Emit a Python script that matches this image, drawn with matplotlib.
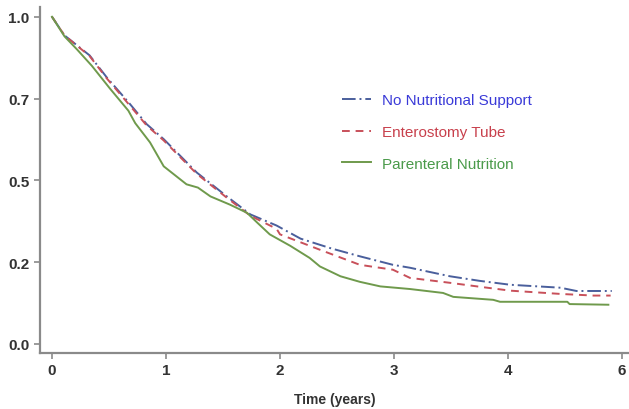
# Kaplan-Meier style survival curves by nutritional support group
import matplotlib
matplotlib.use("Agg")
import matplotlib.pyplot as plt

plt.rcParams["font.family"] = ["Liberation Sans", "DejaVu Sans"]

# values (time in years, survival fraction)
t_none = [0.0, 0.11, 0.33, 0.48, 0.68, 0.83, 0.98, 1.27, 1.53, 1.74, 1.97, 2.18,
          2.45, 2.70, 2.99, 3.14, 3.49, 3.75, 4.02, 4.46, 4.60, 4.91]
s_none = [1.0, 0.943, 0.882, 0.815, 0.735, 0.672, 0.626, 0.524, 0.452, 0.396, 0.362, 0.322,
          0.292, 0.268, 0.242, 0.233, 0.207, 0.193, 0.181, 0.172, 0.162, 0.162]

t_tube = [0.0, 0.11, 0.33, 0.48, 0.68, 0.83, 0.98, 1.27, 1.53, 1.74, 1.97, 2.0,
          2.35, 2.70, 2.99, 3.14, 3.49, 3.75, 4.02, 4.46, 4.75, 4.90]
s_tube = [1.0, 0.943, 0.880, 0.812, 0.730, 0.668, 0.622, 0.520, 0.448, 0.392, 0.352, 0.335,
          0.288, 0.242, 0.227, 0.202, 0.187, 0.175, 0.163, 0.153, 0.148, 0.148]

t_paren = [0.0, 0.11, 0.22, 0.35, 0.51, 0.67, 0.73, 0.86, 0.98, 1.18, 1.28, 1.39,
           1.56, 1.71, 1.80, 1.91, 2.09, 2.26, 2.35, 2.53, 2.70, 2.88, 3.14, 3.43,
           3.52, 3.87, 3.93, 4.52, 4.54, 4.88]
s_paren = [1.0, 0.94, 0.90, 0.85, 0.78, 0.713, 0.675, 0.616, 0.543, 0.488, 0.478, 0.451,
           0.426, 0.401, 0.371, 0.335, 0.300, 0.263, 0.237, 0.207, 0.190, 0.176, 0.168, 0.156,
           0.144, 0.135, 0.129, 0.129, 0.122, 0.120]

x_ticks = [0, 1, 2, 3, 4, 5]
x_labels = ["0", "1", "2", "3", "4", "6"]
y_ticks = [0.0, 0.25, 0.5, 0.75, 1.0]
y_labels = ["0.0", "0.2", "0.5", "0.7", "1.0"]

fig = plt.figure(figsize=(6.29, 4.10), dpi=100)
ax = fig.add_axes([0.0636, 0.1366, 0.9364, 0.844])

ax.plot(t_none, s_none, color="#4a5f9c", lw=1.4, linestyle=(0, (7, 2, 1, 2)),
        label="No Nutritional Support")
ax.plot(t_tube, s_tube, color="#c8505a", lw=1.4, linestyle=(0, (4, 3)),
        label="Enterostomy Tube")
ax.plot(t_paren, s_paren, color="#6f9a4c", lw=1.4, label="Parenteral Nutrition")

ax.set_xlim(-0.105, 5.061)
ax.set_ylim(-0.0275, 1.03)
ax.set_xticks(x_ticks)
ax.set_xticklabels(x_labels)
ax.set_yticks(y_ticks)
ax.set_yticklabels(y_labels)

for side in ["top", "right"]:
    ax.spines[side].set_visible(False)
for side in ["left", "bottom"]:
    ax.spines[side].set_color("#8a8a8a")
    ax.spines[side].set_linewidth(1.6)
ax.tick_params(colors="#8a8a8a", length=4, width=1.2, labelcolor="#333333", labelsize=11)
ax.tick_params(axis="x", pad=3)
for lab in ax.get_xticklabels() + ax.get_yticklabels():
    lab.set_fontweight("bold")

ax.set_xlabel("Time (years)", fontsize=10, fontweight="bold", color="#333333", labelpad=11)

leg = ax.legend(loc="upper left", bbox_to_anchor=(0.49, 0.79), frameon=False,
                fontsize=11, handlelength=1.9, handletextpad=0.7, labelspacing=1.15,
                labelcolor=["#3a3ad8", "#c8404c", "#4a9a4a"])

fig.savefig("out.png", dpi=100)
